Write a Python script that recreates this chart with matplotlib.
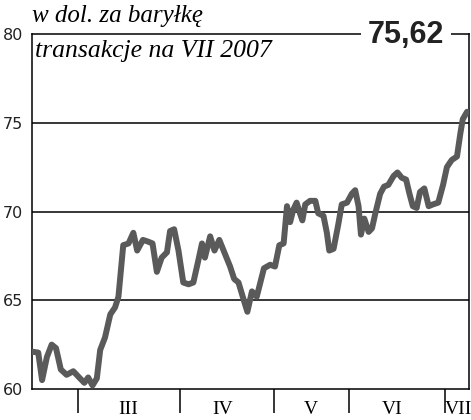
import matplotlib
matplotlib.use('Agg')
import matplotlib.pyplot as plt

# cena ropy, dolary za baryłkę (kontrakty na VII 2007)
dzien = [0.1, 1.3, 2.1, 3.1, 4.1, 5.0, 6.0, 7.2, 8.6, 10.0, 10.9, 11.7, 12.6, 13.5,
         14.2, 15.2, 16.3, 17.3, 18.0, 19.0, 20.1, 21.1, 21.9, 23.1, 24.2, 25.1,
         26.0, 27.0, 28.1, 28.75, 29.6, 30.5, 31.5, 32.6, 33.6, 34.6, 35.4, 36.0,
         37.1, 38.0, 39.0, 40.2, 41.25, 42.1, 43.0, 44.0, 44.85, 45.8, 46.8, 48.3,
         49.6, 50.6, 51.5, 52.4, 53.1, 53.75, 54.4, 55.1, 55.8, 56.3, 56.9, 57.9,
         59.0, 59.6, 60.7, 61.4, 61.9, 62.8, 63.8, 64.5, 65.6, 66.6, 67.3, 68.0,
         68.5, 69.2, 70.1, 70.8, 71.5, 72.5, 73.3, 74.2, 75.3, 76.1, 77.0, 77.9,
         78.6, 79.3, 80.1, 80.8, 81.7, 82.6, 83.5, 84.6, 85.6, 86.4, 87.4, 88.5,
         89.2, 89.7, 90.6]
cena = [62.1, 62.05, 60.5, 61.8, 62.5, 62.3, 61.1, 60.8, 61.0, 60.6, 60.35, 60.65,
        60.2, 60.6, 62.2, 62.9, 64.2, 64.6, 65.2, 68.1, 68.2, 68.8, 67.8, 68.4,
        68.3, 68.2, 66.6, 67.4, 67.7, 68.9, 69.0, 67.8, 66.0, 65.9, 66.0, 67.2,
        68.2, 67.4, 68.6, 67.8, 68.4, 67.6, 66.9, 66.2, 66.0, 65.1, 64.35, 65.5,
        65.2, 66.8, 67.0, 66.9, 68.1, 68.2, 70.3, 69.4, 70.1, 70.5, 69.9, 69.5,
        70.4, 70.6, 70.6, 69.9, 69.75, 68.8, 67.8, 67.9, 69.3, 70.4, 70.5, 71.0,
        71.2, 70.3, 68.7, 69.6, 68.85, 69.05, 69.9, 71.0, 71.4, 71.5, 72.0, 72.2,
        71.9, 71.8, 71.0, 70.3, 70.2, 71.1, 71.3, 70.3, 70.4, 70.5, 71.5, 72.5,
        72.9, 73.1, 74.4, 75.2, 75.62]

granice_miesiecy = [9.6, 30.8, 50.4, 66.0, 86.0]
miesiace = ['III', 'IV', 'V', 'VI', 'VII']
miesiace_x = [20.0, 39.6, 58.1, 75.0, 88.8]
y_ticks = [60, 65, 70, 75, 80]
ostatnia = '75,62'

fig = plt.figure(figsize=(4.71, 4.20), dpi=100)
ax = fig.add_axes([32 / 471, 31 / 420, 437 / 471, 355 / 420])

ax.plot(dzien, cena, color='#5a5a5a', lw=4.3, solid_joinstyle='round',
        solid_capstyle='round', zorder=3)

ax.set_xlim(0, 91.0)
ax.set_ylim(60, 80)

for y in y_ticks[1:-1]:
    ax.axhline(y, color='black', lw=1.1, zorder=1)

for s in ['left', 'right', 'bottom', 'top']:
    ax.spines[s].set_linewidth(1.1)

ax.set_yticks(y_ticks)
ax.set_yticklabels([str(v) for v in y_ticks], fontsize=11.5, color='#222222',
                   family='DejaVu Sans')
ax.tick_params(axis='y', length=0, pad=6.5)

ax.set_xticks(granice_miesiecy)
ax.set_xticklabels([])
ax.tick_params(axis='x', which='major', length=17, width=1.1, direction='out')
ax.set_xticks(miesiace_x, minor=True)
ax.set_xticklabels(miesiace, minor=True, fontsize=14, family='Liberation Serif')
ax.tick_params(axis='x', which='minor', length=0, pad=9)

fig.text(32 / 471, 1 - 22 / 420, 'w dol. za baryłkę', fontsize=18,
         family='Liberation Serif', style='italic', va='baseline', ha='left')
fig.text(35 / 471, 1 - 57 / 420, 'transakcje na VII 2007', fontsize=18.5,
         family='Liberation Serif', style='italic', va='baseline', ha='left')

fig.text(406 / 471, 1 - 43 / 420, ostatnia, fontsize=22, fontweight='bold',
         color='#222222', family='Liberation Sans', va='baseline', ha='center',
         bbox=dict(facecolor='white', edgecolor='none', pad=5))

fig.savefig('out.png', dpi=100)
